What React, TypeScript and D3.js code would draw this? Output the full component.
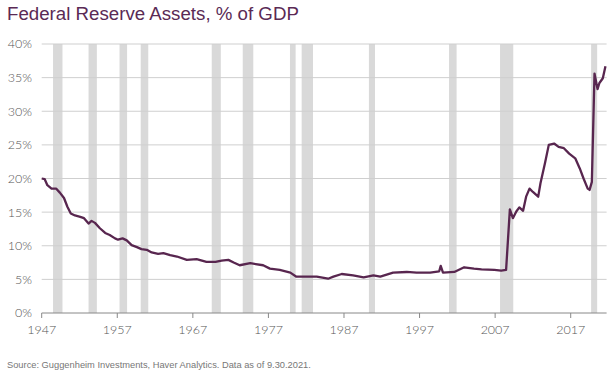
import React from "react";
import * as d3 from "d3";

const years: number[] = [
  1947.0, 1947.4, 1947.75, 1948.3, 1948.9, 1949.4, 1949.95, 1950.4, 1950.85, 1951.4,
  1952.1, 1952.6, 1953.2, 1953.6, 1954.05, 1954.7, 1955.4, 1956.0, 1956.7, 1957.1,
  1957.7, 1958.25, 1958.9, 1959.6, 1960.2, 1960.9, 1961.55, 1962.4, 1963.1, 1964.0,
  1964.9, 1966.2, 1967.5, 1968.8, 1970.0, 1970.8, 1971.7, 1972.4, 1973.2, 1974.6,
  1976.3, 1977.2, 1978.5, 1979.9, 1980.7, 1982.1, 1983.4, 1984.9, 1985.6, 1986.7,
  1988.2, 1989.6, 1990.9, 1991.8, 1993.5, 1995.3, 1996.6, 1998.4, 1999.6, 1999.8,
  2000.1, 2001.6, 2002.9, 2004.2, 2005.2, 2006.9, 2007.8, 2008.45, 2008.95, 2009.35,
  2009.8, 2010.2, 2010.7, 2011.1, 2011.55, 2012.0, 2012.7, 2013.0, 2013.6, 2014.1,
  2014.8, 2015.4, 2016.1, 2016.8, 2017.6, 2018.2, 2018.7, 2019.25, 2019.5, 2019.8,
  2020.15, 2020.55, 2020.8, 2021.25, 2021.6,
];

const assetsPctGdp: number[] = [
  20.0, 19.9, 19.0, 18.5, 18.5, 17.9, 17.1, 15.8, 14.8, 14.5,
  14.3, 14.1, 13.3, 13.7, 13.4, 12.6, 11.9, 11.6, 11.1, 10.9,
  11.1, 10.8, 10.1, 9.8, 9.5, 9.4, 9.0, 8.8, 8.9, 8.6,
  8.4, 7.9, 8.0, 7.6, 7.6, 7.8, 7.9, 7.5, 7.1, 7.4,
  7.1, 6.6, 6.4, 6.0, 5.4, 5.4, 5.4, 5.1, 5.4, 5.8,
  5.6, 5.3, 5.6, 5.4, 6.0, 6.1, 6.0, 6.0, 6.2, 7.0,
  6.0, 6.1, 6.8, 6.6, 6.5, 6.4, 6.3, 6.4, 15.4, 14.1,
  15.1, 15.7, 15.2, 17.3, 18.5, 18.0, 17.3, 19.3, 22.3, 25.0,
  25.2, 24.7, 24.5, 23.7, 23.0, 21.5, 20.0, 18.5, 18.3, 19.5,
  35.6, 33.3, 34.2, 34.9, 36.7,
];

const recessionStarts: number[] = [1948.5, 1953.2, 1957.3, 1960.1, 1969.5, 1973.6, 1979.85, 1981.4, 1990.3, 2000.9, 2007.65, 2019.7];
const recessionEnds: number[] = [1949.75, 1954.3, 1958.3, 1961.1, 1970.7, 1975.0, 1980.6, 1982.9, 1991.1, 2001.9, 2009.4, 2020.5];

const xTicks: number[] = [1947, 1957, 1967, 1977, 1987, 1997, 2007, 2017];
const yTicks: number[] = [0, 5, 10, 15, 20, 25, 30, 35, 40];

const title = "Federal Reserve Assets, % of GDP";
const source = "Source: Guggenheim Investments, Haver Analytics. Data as of 9.30.2021.";

export default function App() {
  const W = 615, H = 383;
  const left = 41.7, right = 606.6, top = 44, bottom = 313;
  const x = d3.scaleLinear().domain([1947, 2021.75]).range([left, right]);
  const y = d3.scaleLinear().domain([0, 40]).range([bottom, top]);
  const pts = years.map((yr, i) => [yr, assetsPctGdp[i]] as [number, number]);
  const line = d3.line<[number, number]>().x(d => x(d[0])).y(d => y(d[1]));
  const labelFont = "Lato, 'Open Sans', sans-serif";
  return (
    <svg width={W} height={H} style={{ position: "absolute", left: 0, top: 0, background: "#fff" }}>
      <text x={7} y={20} fontFamily="'Liberation Sans', Arial, sans-serif" fontSize={18.7} fill="#5a2a55">{title}</text>
      {recessionStarts.map((s, i) => (
        <rect key={"r" + i} x={x(s)} y={top} width={x(recessionEnds[i]) - x(s)} height={bottom - top} fill="#d9d9d9" />
      ))}
      {yTicks.filter(t => t > 0).map(t => (
        <line key={"g" + t} x1={left} x2={right} y1={y(t)} y2={y(t)} stroke="#cfcfcf" strokeWidth={1} />
      ))}
      {yTicks.map(t => (
        <text key={"yl" + t} x={32} y={y(t)} dy="0.35em" textAnchor="end" fontFamily={labelFont} fontWeight={300} fontSize={12.5} fill="#555">{t}%</text>
      ))}
      <line x1={left} x2={right} y1={bottom} y2={bottom} stroke="#888" strokeWidth={1} />
      {xTicks.map(t => (
        <g key={"xt" + t}>
          <line x1={x(t)} x2={x(t)} y1={bottom} y2={bottom + 5} stroke="#888" strokeWidth={1} />
          <text x={x(t)} y={334} textAnchor="middle" fontFamily={labelFont} fontWeight={300} fontSize={12.5} fill="#555">{t}</text>
        </g>
      ))}
      <path d={line(pts) || ""} fill="none" stroke="#58264f" strokeWidth={2.3} strokeLinejoin="round" />
      <text x={7} y={368} fontFamily="'Liberation Sans', Arial, sans-serif" fontSize={9.3} fill="#777">{source}</text>
    </svg>
  );
}
